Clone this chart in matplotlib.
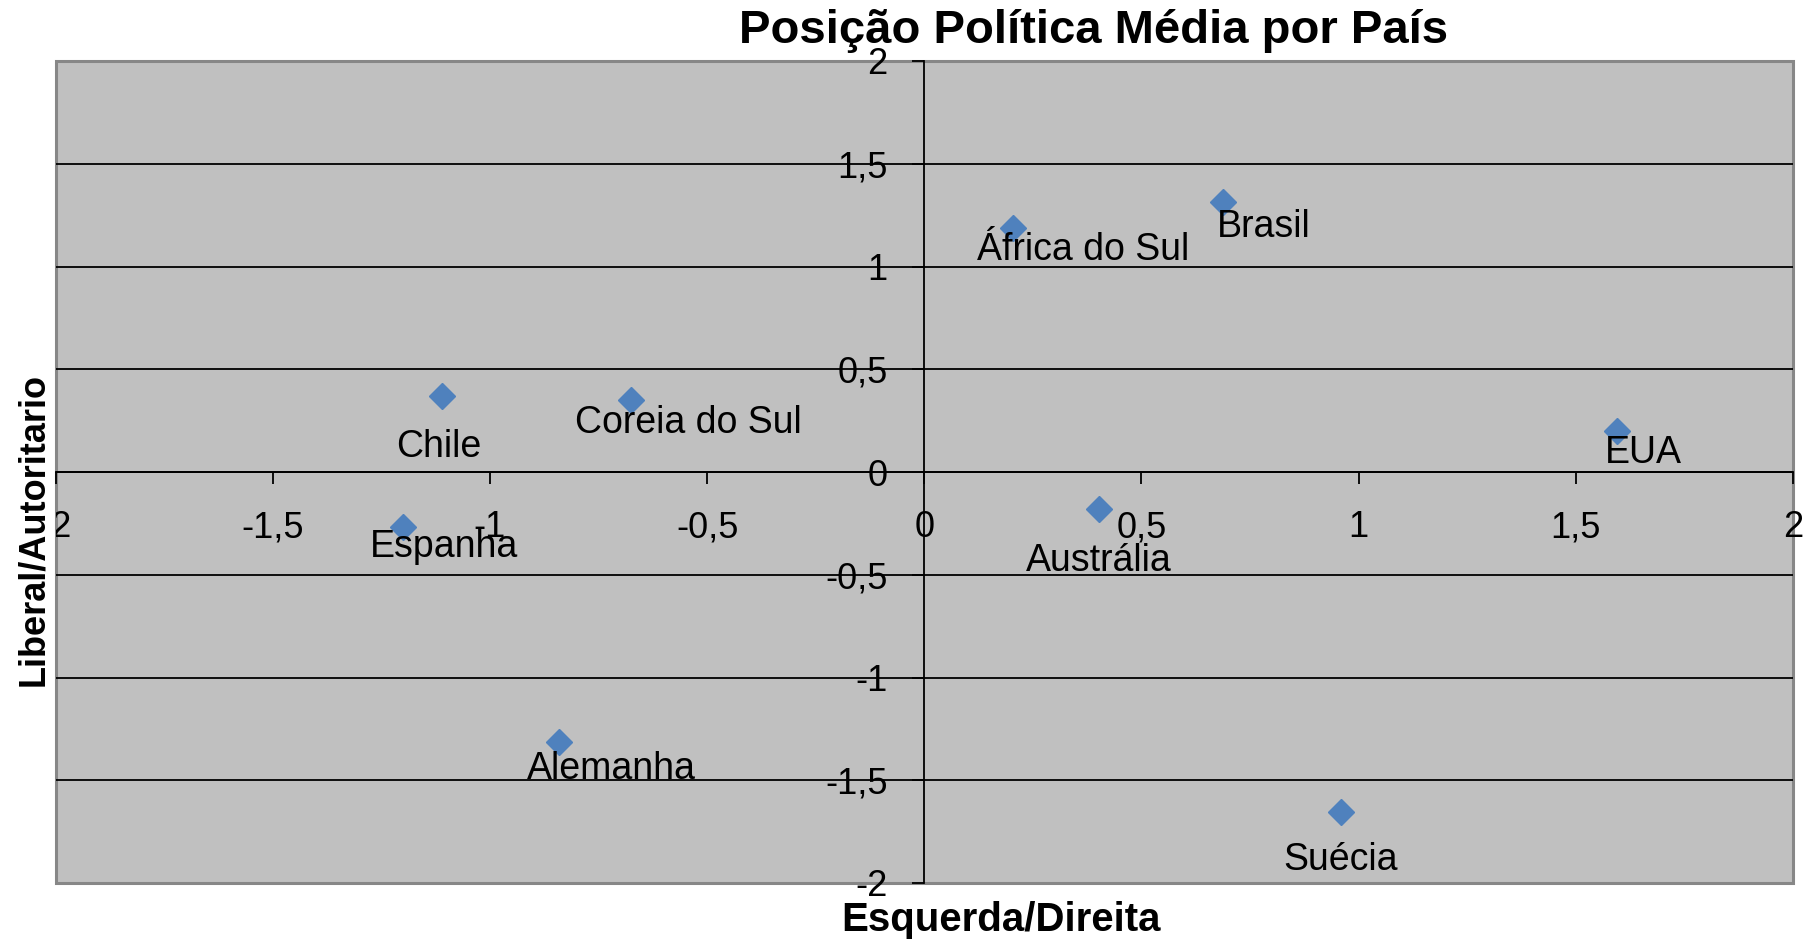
import matplotlib
matplotlib.use("Agg")
import matplotlib.pyplot as plt
from matplotlib.ticker import FuncFormatter

plt.rcParams['font.family'] = ['Liberation Sans', 'DejaVu Sans']

# --- Data ---
countries = ["Chile", "Coreia do Sul", "Espanha", "Alemanha", "África do Sul",
             "Brasil", "EUA", "Austrália", "Suécia"]
left_right = [-1.11, -0.675, -1.20, -0.84, 0.205, 0.688, 1.595, 0.403, 0.96]
liberal_auth = [0.37, 0.35, -0.266, -1.312, 1.187, 1.316, 0.20, -0.18, -1.654]

axis_ticks = [-2, -1.5, -1, -0.5, 0, 0.5, 1, 1.5, 2]

# label offsets (pixels) from each point, mimicking Excel's placement
label_dx = [-3, 57, 41, 52, 70, 41, 26, -1, -1]
label_dy = [-51, -23, -20, -27, -22, -25, -22, -52, -48]

# --- Style ---
PLOT_BG = '#C0C0C0'
BORDER = '#878787'
MARKER = '#4F81BD'
W, H = 1811, 939


def comma_fmt(v, pos):
    return f"{v:g}".replace(".", ",")


fig = plt.figure(figsize=(W / 100, H / 100), dpi=100)
ax = fig.add_axes([55.5 / W, 1 - 883 / H, (1793 - 55.5) / W, (883 - 61) / H])
ax.set_xlim(-2, 2)
ax.set_ylim(-2, 2)

ax.patch.set_facecolor(PLOT_BG)
ax.patch.set_edgecolor(BORDER)
ax.patch.set_linewidth(2.2)

# axes crossing at zero, Excel style
for side in ['top', 'right']:
    ax.spines[side].set_visible(False)
for side in ['left', 'bottom']:
    ax.spines[side].set_position('zero')
    ax.spines[side].set_color('black')
    ax.spines[side].set_linewidth(1.3)

ax.set_xticks(axis_ticks)
ax.set_yticks(axis_ticks)
ax.xaxis.set_major_formatter(FuncFormatter(comma_fmt))
ax.yaxis.set_major_formatter(FuncFormatter(comma_fmt))
ax.tick_params(axis='x', direction='out', length=8.5, width=1.3, pad=19,
               labelsize=26, colors='black')
ax.tick_params(axis='y', direction='out', length=8.5, width=1.3, pad=18,
               labelsize=26, colors='black')

ax.yaxis.grid(True, color='black', linewidth=1.3)
ax.xaxis.grid(False)
gl = ax.yaxis.get_gridlines()
gl[0].set_visible(False)
gl[-1].set_visible(False)

# the left "-2" label is cut by the plot border in the original
first = ax.get_xticklabels()[0]
first.set_clip_box(ax.bbox)
first.set_clip_on(True)

ax.plot(left_right, liberal_auth, ls='none', marker='D', ms=13,
        color=MARKER, mec=MARKER, zorder=3)

for name, x, y, dx, dy in zip(countries, left_right, liberal_auth, label_dx, label_dy):
    ax.annotate(name, (x, y), xytext=(dx, dy), textcoords='offset pixels',
                ha='center', va='center', fontsize=27, color='black', zorder=4)

fig.text(1094 / W, 1 - 43 / H, "Posição Política Média por País", ha='center',
         va='baseline', fontsize=34, fontweight='bold')
fig.text(1001 / W, 1 - 931 / H, "Esquerda/Direita", ha='center', va='baseline',
         fontsize=29, fontweight='bold')
fig.text(34 / W, 0.436, "Liberal/Autoritario", rotation=90, ha='center',
         va='center', fontsize=26, fontweight='bold')

fig.savefig('out.png', dpi=100)
